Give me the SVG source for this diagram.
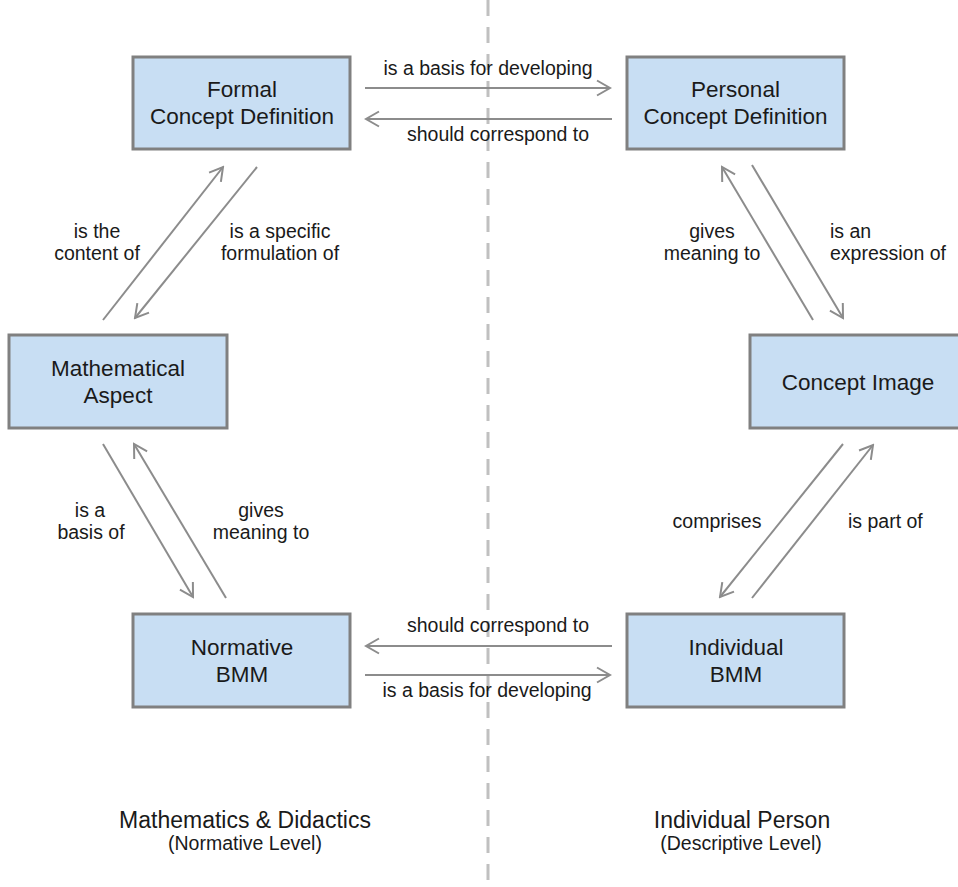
<svg xmlns="http://www.w3.org/2000/svg" width="958" height="887" viewBox="0 0 958 887">
<defs>
<style>
.box{fill:#c8def3;stroke:#808080;stroke-width:3}
.bt{font-family:"Liberation Sans",Arial,sans-serif;font-size:22.5px;fill:#1a1a1a;text-anchor:middle}
.lb{font-family:"Liberation Sans",Arial,sans-serif;font-size:19.5px;fill:#1a1a1a;text-anchor:middle}
.ls{text-anchor:start}
.tt{font-family:"Liberation Sans",Arial,sans-serif;font-size:23px;fill:#1a1a1a;text-anchor:middle}
.st{font-family:"Liberation Sans",Arial,sans-serif;font-size:19.5px;fill:#1a1a1a;text-anchor:middle}
.ar{stroke:#8c8c8c;stroke-width:2;fill:none;marker-end:url(#ah)}
</style>
<marker id="ah" viewBox="-15 -9 17 18" refX="0" refY="0" markerWidth="17" markerHeight="18" markerUnits="userSpaceOnUse" orient="auto">
<path d="M-13,-7.5 L0,0 L-13,7.5" fill="none" stroke="#8c8c8c" stroke-width="2"/>
</marker>
</defs>
<rect width="958" height="887" fill="#ffffff"/>
<line x1="488" y1="0" x2="488" y2="887" stroke="#c0c0c0" stroke-width="3" stroke-dasharray="16 11"/>

<g id="connectors">
<line class="ar" x1="365" y1="88" x2="610" y2="88"/>
<line class="ar" x1="612" y1="119" x2="366" y2="119"/>
<line class="ar" x1="612" y1="646" x2="366" y2="646"/>
<line class="ar" x1="365" y1="675" x2="610" y2="675"/>
<line class="ar" x1="103" y1="320" x2="223" y2="167"/>
<line class="ar" x1="257" y1="167" x2="135" y2="318"/>
<line class="ar" x1="813" y1="320" x2="722" y2="167"/>
<line class="ar" x1="752" y1="165" x2="843" y2="318"/>
<line class="ar" x1="103" y1="444" x2="193" y2="597"/>
<line class="ar" x1="226" y1="598" x2="134" y2="444"/>
<line class="ar" x1="843" y1="444" x2="720" y2="597"/>
<line class="ar" x1="752" y1="598" x2="873" y2="445"/>
<text class="lb" x="488" y="75">is a basis for developing</text>
<text class="lb" x="498" y="141">should correspond to</text>
<text class="lb" x="498" y="632">should correspond to</text>
<text class="lb" x="487" y="697">is a basis for developing</text>
<text class="lb" x="97" y="238">is the</text>
<text class="lb" x="97" y="260">content of</text>
<text class="lb" x="280" y="238">is a specific</text>
<text class="lb" x="280" y="260">formulation of</text>
<text class="lb" x="712" y="238">gives</text>
<text class="lb" x="712" y="260">meaning to</text>
<text class="lb ls" x="830" y="238">is an</text>
<text class="lb ls" x="830" y="260">expression of</text>
<text class="lb" x="90" y="517">is a</text>
<text class="lb" x="91" y="539">basis of</text>
<text class="lb" x="261" y="517">gives</text>
<text class="lb" x="261" y="539">meaning to</text>
<text class="lb" x="717" y="528">comprises</text>
<text class="lb ls" x="848" y="528">is part of</text>
</g>

<g id="formal">
<rect class="box" x="133" y="57" width="217" height="92"/>
<text class="bt" x="242" y="97">Formal</text>
<text class="bt" x="242" y="124">Concept Definition</text>
</g>
<g id="personal">
<rect class="box" x="627" y="57" width="217" height="92"/>
<text class="bt" x="735.5" y="97">Personal</text>
<text class="bt" x="735.5" y="124">Concept Definition</text>
</g>
<g id="mathematical">
<rect class="box" x="9" y="335" width="218" height="93"/>
<text class="bt" x="118" y="376">Mathematical</text>
<text class="bt" x="118" y="403">Aspect</text>
</g>
<g id="conceptimage">
<rect class="box" x="750" y="335" width="217" height="93"/>
<text class="bt" x="858" y="390">Concept Image</text>
</g>
<g id="normative">
<rect class="box" x="133" y="614" width="217" height="93"/>
<text class="bt" x="242" y="655">Normative</text>
<text class="bt" x="242" y="682">BMM</text>
</g>
<g id="individual">
<rect class="box" x="627" y="614" width="217" height="93"/>
<text class="bt" x="736" y="655">Individual</text>
<text class="bt" x="736" y="682">BMM</text>
</g>

<g id="titles">
<text class="tt" x="245" y="828">Mathematics &amp; Didactics</text>
<text class="st" x="245" y="850">(Normative Level)</text>
<text class="tt" x="742" y="828">Individual Person</text>
<text class="st" x="741" y="850">(Descriptive Level)</text>
</g>
</svg>
